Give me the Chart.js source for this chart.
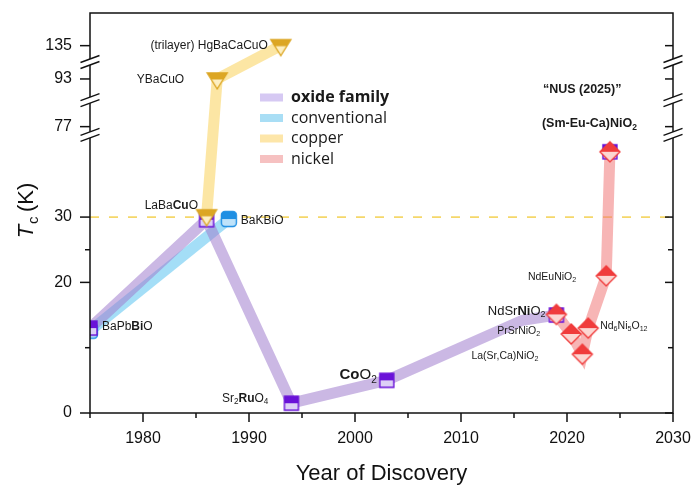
<!DOCTYPE html>
<html>
<head>
<meta charset="utf-8">
<script src="https://cdn.jsdelivr.net/npm/chart.js@4.4.1/dist/chart.umd.min.js"></script>
<style>
  html, body { margin: 0; padding: 0; background: #fff; }
  #wrap { width: 700px; height: 491px; }
</style>
</head>
<body>
<div id="wrap"><canvas id="tcCanvas" width="700" height="491"></canvas></div>
<script>
// ---- data ----
// thick family lines (year, Tc in K)
var oxideYears = [1975, 1986, 1994, 2003, 2015.8, 2019];
var oxideTc = [13, 29.6, 1.5, 5, 14.2, 15];
var convYears = [1975, 1988.1];
var convTc = [12.6, 29.7];
var copperYears = [1986, 1987, 1993];
var copperTc = [30.2, 93, 135];
var nickelYears = [2019, 2020.4, 2021.45, 2022, 2023.7, 2024.05];
var nickelTc = [15.1, 12.1, 9, 13, 21, 40];

// markers sitting on the lines
var oxideMarkYears = [1975, 1986, 1994, 2003, 2019, 2024.05];
var oxideMarkTc = [13, 29.6, 1.5, 5, 15, 40];

var legendLabels = ["oxide family", "conventional", "copper", "nickel"];
var xTickValues = [1980, 1990, 2000, 2010, 2020, 2030];
var xMinorValues = [1975, 1985, 1995, 2005, 2015, 2025];
var yTickValues = [0, 20, 30, 77, 93, 135];
var yMinorValues = [10, 25];
var dashedTc = 30;

// broken y axis: Tc -> axis units (piecewise linear)
var axisKnotsTc = [0, 42.5, 77, 93, 135, 200];
var axisKnotsPos = [0, 42.5, 43.85, 51.15, 56.25, 66];
var breakMarks = [53.75, 47.9, 42.6];   // in axis units

var colors = {
    oxide: 'rgba(160, 125, 205, 0.55)',
    conv: 'rgba(90, 195, 240, 0.55)',
    copper: 'rgba(250, 210, 90, 0.55)',
    nickel: 'rgba(240, 120, 120, 0.55)',
    legend: ['#d6c9f3', '#a9def5', '#fde6a9', '#f6c1c1']
};
var plotFont = "'Liberation Sans', Arial, sans-serif";
var legendFont = "'Open Sans', sans-serif";

function toAxis(v) {
    for (var i = 1; i < axisKnotsTc.length; i++) {
        if (v <= axisKnotsTc[i]) {
            var t = (v - axisKnotsTc[i - 1]) / (axisKnotsTc[i] - axisKnotsTc[i - 1]);
            return axisKnotsPos[i - 1] + t * (axisKnotsPos[i] - axisKnotsPos[i - 1]);
        }
    }
    return axisKnotsPos[axisKnotsPos.length - 1];
}

function pts(xs, ys) {
    return xs.map(function (x, i) { return { x: x, y: toAxis(ys[i]) }; });
}

// half-filled marker images
function makeMarker(shape, dark, light) {
    var c = document.createElement('canvas');
    c.width = 24; c.height = 24;
    var g = c.getContext('2d');
    var m = 12;
    g.beginPath();
    if (shape === 'square') {
        g.rect(m - 7, m - 7, 14, 14);
    } else if (shape === 'round') {
        g.roundRect(m - 7.5, m - 7.5, 15, 15, 3.5);
    } else if (shape === 'diamond') {
        g.moveTo(m, m - 10); g.lineTo(m + 10, m); g.lineTo(m, m + 10); g.lineTo(m - 10, m); g.closePath();
    } else if (shape === 'triangle') {
        g.moveTo(m - 10, m - 6); g.lineTo(m + 10, m - 6); g.lineTo(m, m + 10); g.closePath();
    }
    g.fillStyle = light;
    g.fill();
    g.save();
    g.clip();
    g.fillStyle = dark;
    g.fillRect(0, 0, 24, shape === 'triangle' ? m + 0.5 : m);
    g.restore();
    g.strokeStyle = dark;
    g.lineWidth = 1.4;
    g.stroke();
    return c;
}

var squareImg = makeMarker('square', '#6a12d8', '#ddd0f6');
var roundImg = makeMarker('round', '#1f8fe3', '#bfe3fa');
var diamondImg = makeMarker('diamond', '#f03c3c', '#fcd6d2');
var triangleImg = makeMarker('triangle', '#dca624', '#fdefc2');

function lineSet(label, xs, ys, color, order) {
    return {
        label: label, data: pts(xs, ys), borderColor: color, backgroundColor: color,
        borderWidth: 11, pointRadius: 0, showLine: true, fill: false, tension: 0,
        order: order, clip: 0
    };
}

function markSet(label, xs, ys, img, order) {
    return {
        label: label, data: pts(xs, ys), pointStyle: img, pointRadius: 8,
        showLine: false, order: order, clip: 0
    };
}

var markerSeries = {
    oxide: [oxideMarkYears, oxideMarkTc],
    conv: [convYears, convTc],
    copper: [copperYears, copperTc],
    nickel: [nickelYears, nickelTc]
};

// point labels: parts are [text, 'b' bold | 's' subscript]
var pointLabels = [
    { parts: [['(trilayer) HgBaCaCuO']], set: 'copper', i: 2, dx: -13, dy: 0, align: 'right', size: 12 },
    { parts: [['YBaCuO']], set: 'copper', i: 1, dx: -33, dy: 1, align: 'right', size: 12 },
    { parts: [['LaBa'], ['Cu', 'b'], ['O']], set: 'copper', i: 0, dx: -8.6, dy: -10, align: 'right', size: 12 },
    { parts: [['BaKBiO']], set: 'conv', i: 1, dx: 12, dy: 2, align: 'left', size: 12 },
    { parts: [['BaPb'], ['Bi', 'b'], ['O']], set: 'oxide', i: 0, dx: 12, dy: -1, align: 'left', size: 12 },
    { parts: [['Sr'], ['2', 's'], ['Ru', 'b'], ['O'], ['4', 's']], set: 'oxide', i: 2, dx: -23, dy: -5, align: 'right', size: 12 },
    { parts: [['Co', 'b'], ['O'], ['2', 's']], set: 'oxide', i: 3, dx: -10, dy: -5, align: 'right', size: 15 },
    { parts: [['NdSr'], ['Ni', 'b'], ['O'], ['2', 's']], set: 'oxide', i: 4, dx: -11, dy: -4, align: 'right', size: 13 },
    { parts: [['PrSrNiO'], ['2', 's']], set: 'nickel', i: 1, dx: -31, dy: -3, align: 'right', size: 10.5 },
    { parts: [['La(Sr,Ca)NiO'], ['2', 's']], set: 'nickel', i: 2, dx: -44, dy: 2, align: 'right', size: 10.5 },
    { parts: [['Nd'], ['6', 's'], ['Ni'], ['5', 's'], ['O'], ['12', 's']], set: 'nickel', i: 3, dx: 12, dy: -2, align: 'left', size: 10.5 },
    { parts: [['NdEuNiO'], ['2', 's']], set: 'nickel', i: 4, dx: -30, dy: 1, align: 'right', size: 10.5 },
    { parts: [['\u201CNUS (2025)\u201D', 'b']], set: 'nickel', i: 5, dx: -67, dy: -62, align: 'left', size: 12.5 },
    { parts: [['(Sm-Eu-Ca)NiO', 'b'], ['2', 'bs']], set: 'nickel', i: 5, dx: -68, dy: -28, align: 'left', size: 12.5 }
];

function partFont(p, size, family, italic) {
    var bold = p[1] && p[1].indexOf('b') >= 0;
    var sub = p[1] && p[1].indexOf('s') >= 0;
    var s = sub ? size * 0.68 : size;
    return (italic ? 'italic ' : '') + (bold ? 'bold ' : '') + s + 'px ' + family;
}

function drawRich(ctx, parts, x, y, size, align, family) {
    var widths = parts.map(function (p) {
        ctx.font = partFont(p, size, family);
        return ctx.measureText(p[0]).width;
    });
    var total = widths.reduce(function (a, b) { return a + b; }, 0);
    var cx = align === 'right' ? x - total : (align === 'center' ? x - total / 2 : x);
    ctx.textAlign = 'left';
    ctx.textBaseline = 'middle';
    parts.forEach(function (p, k) {
        var sub = p[1] && p[1].indexOf('s') >= 0;
        ctx.font = partFont(p, size, family);
        ctx.fillText(p[0], cx, sub ? y + size * 0.3 : y);
        cx += widths[k];
    });
}

function seg(ctx, x1, y1, x2, y2) {
    ctx.beginPath();
    ctx.moveTo(x1, y1);
    ctx.lineTo(x2, y2);
    ctx.stroke();
}

function noPadding(scale) {
    scale.paddingTop = 0;
    scale.paddingBottom = 0;
    scale.paddingLeft = 0;
    scale.paddingRight = 0;
}

var decorPlugin = {
    id: 'decor',
    afterDraw: function (chart) {
        var ctx = chart.ctx;
        var a = chart.chartArea;
        var xs = chart.scales.x, ys = chart.scales.y;
        ctx.save();

        // frame
        ctx.strokeStyle = '#111';
        ctx.lineWidth = 1.5;
        ctx.strokeRect(a.left, a.top, a.right - a.left, a.bottom - a.top);

        // x ticks (outward)
        xTickValues.forEach(function (v) {
            var px = xs.getPixelForValue(v);
            seg(ctx, px, a.bottom, px, a.bottom + 9);
        });
        xMinorValues.forEach(function (v) {
            var px = xs.getPixelForValue(v);
            seg(ctx, px, a.bottom, px, a.bottom + 5);
        });
        // y ticks: outward on left, inward on right
        yTickValues.forEach(function (v) {
            var py = ys.getPixelForValue(toAxis(v));
            seg(ctx, a.left - 10, py, a.left, py);
            seg(ctx, a.right - 8, py, a.right, py);
        });
        yMinorValues.forEach(function (v) {
            var py = ys.getPixelForValue(toAxis(v));
            seg(ctx, a.left - 5, py, a.left, py);
            seg(ctx, a.right - 5, py, a.right, py);
        });

        // axis breaks
        breakMarks.forEach(function (d) {
            var py = ys.getPixelForValue(d);
            [a.left, a.right].forEach(function (x0) {
                ctx.fillStyle = '#fff';
                ctx.beginPath();
                ctx.moveTo(x0 - 9.5, py + 0.5);
                ctx.lineTo(x0 + 9.5, py - 6.5);
                ctx.lineTo(x0 + 9.5, py - 0.5);
                ctx.lineTo(x0 - 9.5, py + 6.5);
                ctx.closePath();
                ctx.fill();
                ctx.strokeStyle = '#111';
                ctx.lineWidth = 1.4;
                seg(ctx, x0 - 9.5, py + 0.5, x0 + 9.5, py - 6.5);
                seg(ctx, x0 - 9.5, py + 6.5, x0 + 9.5, py - 0.5);
            });
        });

        // point labels
        ctx.fillStyle = '#1a1a1a';
        pointLabels.forEach(function (L) {
            var s = markerSeries[L.set];
            var px = xs.getPixelForValue(s[0][L.i]);
            var py = ys.getPixelForValue(toAxis(s[1][L.i]));
            drawRich(ctx, L.parts, px + L.dx, py + L.dy, L.size, L.align, plotFont);
        });

        // legend inside plot
        legendLabels.forEach(function (t, k) {
            var cy = 97.5 + k * 20.5;
            ctx.fillStyle = colors.legend[k];
            ctx.fillRect(260, cy - 4, 23, 8);
            ctx.fillStyle = '#1a1a1a';
            ctx.font = (k === 0 ? 'bold ' : '') + '16px ' + legendFont;
            ctx.textAlign = 'left';
            ctx.textBaseline = 'middle';
            ctx.fillText(t, 291, cy);
        });

        // axis titles
        ctx.fillStyle = '#111';
        ctx.font = '22px ' + plotFont;
        ctx.textAlign = 'center';
        ctx.textBaseline = 'alphabetic';
        ctx.fillText('Year of Discovery', (a.left + a.right) / 2, 480);

        ctx.translate(33, 211);
        ctx.rotate(-Math.PI / 2);
        ctx.textAlign = 'left';
        var tParts = [['T', 'i'], ['c', 's'], ['\u2009(K)']];
        var tw = tParts.map(function (p) {
            ctx.font = partFont(p, 22, plotFont, p[1] === 'i');
            return ctx.measureText(p[0]).width;
        });
        var tx = -tw.reduce(function (m, n) { return m + n; }, 0) / 2;
        tParts.forEach(function (p, k) {
            ctx.font = partFont(p, 22, plotFont, p[1] === 'i');
            ctx.fillText(p[0], tx, p[1] === 's' ? 5 : 0);
            tx += tw[k] + (k === 0 ? 1 : 0);
        });
        ctx.restore();
    }
};

window.onload = function () {
    var ctx = document.getElementById('tcCanvas').getContext('2d');

    var datasets = [
        markSet('nickel marks', nickelYears, nickelTc, diamondImg, 1),
        markSet('copper marks', copperYears, copperTc, triangleImg, 2),
        markSet('oxide marks', oxideMarkYears, oxideMarkTc, squareImg, 3),
        markSet('conventional marks', convYears, convTc, roundImg, 4),
        lineSet('nickel', nickelYears, nickelTc, colors.nickel, 11),
        lineSet('copper', copperYears, copperTc, colors.copper, 12),
        lineSet('oxide family', oxideYears, oxideTc, colors.oxide, 13),
        lineSet('conventional', convYears, convTc, colors.conv, 14),
        {
            label: 'Tc = 30 K', data: pts([1975, 2030], [dashedTc, dashedTc]),
            borderColor: '#f5d76a', borderWidth: 1.8, borderDash: [9, 10],
            pointRadius: 0, showLine: true, fill: false, order: 15, clip: 0
        }
    ];

    new Chart(ctx, {
        type: 'scatter',
        data: { datasets: datasets },
        options: {
            responsive: false,
            animation: false,
            events: [],
            layout: { padding: { top: 13, right: 27, left: 0, bottom: 0 } },
            plugins: {
                legend: { display: false },
                tooltip: { enabled: false }
            },
            scales: {
                x: {
                    type: 'linear',
                    min: 1975,
                    max: 2030,
                    grid: { display: false, drawTicks: false },
                    border: { display: false },
                    afterBuildTicks: function (scale) {
                        scale.ticks = xTickValues.map(function (v) { return { value: v }; });
                    },
                    afterFit: function (scale) { scale.height = 78; noPadding(scale); },
                    ticks: {
                        padding: 16,
                        color: '#111',
                        font: { family: plotFont, size: 16 },
                        maxRotation: 0,
                        callback: function (value) { return String(value); }
                    }
                },
                y: {
                    type: 'linear',
                    min: 0,
                    max: 61.25,
                    grid: { display: false, drawTicks: false },
                    border: { display: false },
                    afterBuildTicks: function (scale) {
                        scale.ticks = yTickValues.map(function (v) { return { value: toAxis(v) }; });
                    },
                    afterFit: function (scale) { scale.width = 90; noPadding(scale); },
                    ticks: {
                        padding: 18,
                        color: '#111',
                        font: { family: plotFont, size: 16 },
                        callback: function (value, index) { return yTickValues[index]; }
                    }
                }
            }
        },
        plugins: [decorPlugin]
    });
};
</script>
</body>
</html>
